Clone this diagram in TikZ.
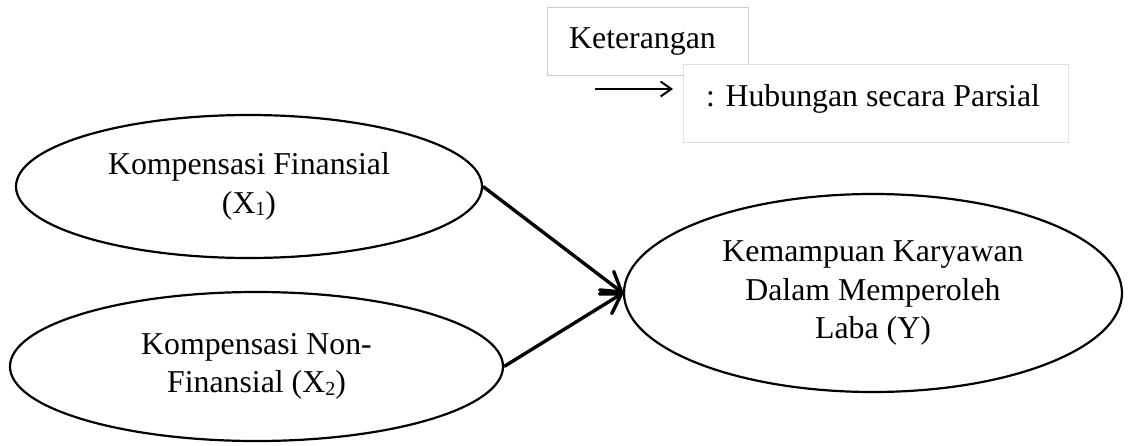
\documentclass[tikz,border=0pt]{standalone}
\usepackage{fontspec}
\setmainfont{Liberation Serif}
\usetikzlibrary{shapes.geometric,arrows.meta}
\newcommand{\subx}[1]{\raisebox{-2.5pt}{\fontsize{20}{20}\selectfont #1}}
\begin{document}
\begin{tikzpicture}[x=1pt,y=-1pt,
  every node/.style={font=\fontsize{31.8}{38.5}\selectfont},
  varnode/.style={draw, ellipse, line width=2.2pt, inner sep=0pt, align=center},
  mainarrow/.style={line width=3.4pt, -{Straight Barb[angle=64:22pt, round]}},
  legarrow/.style={line width=2pt, -{Straight Barb[angle=70:13pt]}},
  legbox/.style={draw=gray!40, line width=1pt, fill=white}
]
\useasboundingbox (0,0) rectangle (1130,445);
% legend
\draw[legbox] (547,7) rectangle (748,75);
\draw[legbox, draw=gray!25] (683,64) rectangle (1068,142);
\node[anchor=base west, inner sep=0pt] (ket) at (569,48) {Keterangan};
\node[anchor=base west, inner sep=0pt] (hub) at (706,106) {: Hubungan secara Parsial};
\coordinate (la) at (595,89);
\coordinate (lb) at (673,89);
\draw[legarrow] (la) -- (lb);
% variables
\node[varnode, minimum width=466pt, minimum height=143pt] (x1) at (249,186.5)
  {Kompensasi Finansial\\(X\subx{1})};
\node[varnode, minimum width=493pt, minimum height=149pt] (x2) at (256.5,366.5)
  {Kompensasi Non-\\Finansial (X\subx{2})};
\node[varnode, minimum width=498pt, minimum height=198pt] (y) at (873,293)
  {Kemampuan Karyawan\\Dalam Memperoleh\\Laba (Y)};
\draw[mainarrow] (x1.east) -- (y.west);
\draw[mainarrow] (x2.east) -- (y.west);
\end{tikzpicture}
\end{document}
